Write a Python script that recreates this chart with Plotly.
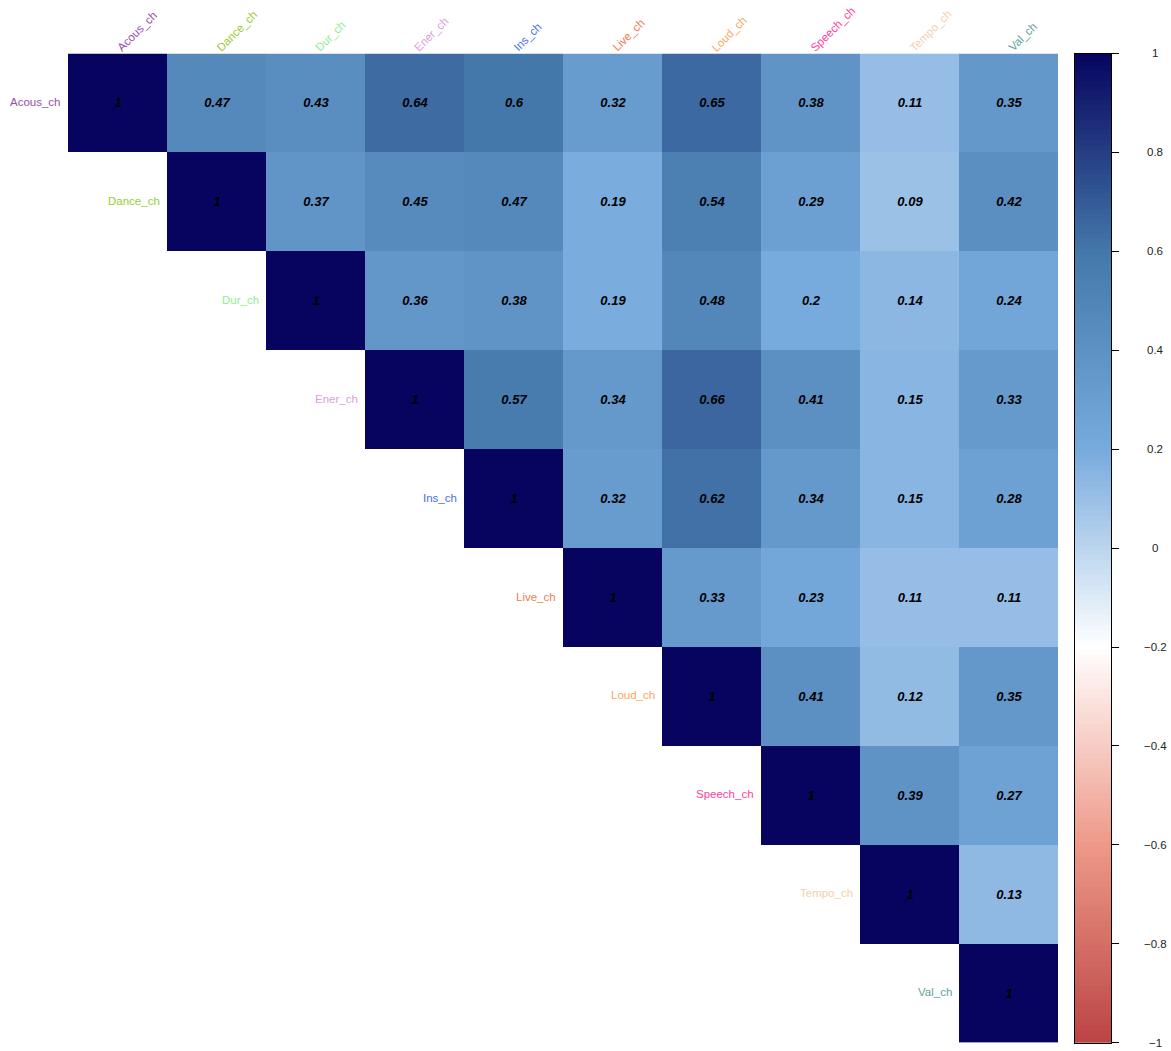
import numpy as np
import plotly.graph_objects as go

variables = ["Acous_ch", "Dance_ch", "Dur_ch", "Ener_ch", "Ins_ch",
             "Live_ch", "Loud_ch", "Speech_ch", "Tempo_ch", "Val_ch"]
label_colors = ["#9352A8", "#9ACD32", "#90EE90", "#DDA0DD", "#4A6FE3",
                "#F47A50", "#FDA65C", "#FF40A0", "#F3CFAE", "#5FA0A0"]

# upper triangle rows (from the diagonal to the right)
row_acous = [1, 0.47, 0.43, 0.64, 0.6, 0.32, 0.65, 0.38, 0.11, 0.35]
row_dance = [1, 0.37, 0.45, 0.47, 0.19, 0.54, 0.29, 0.09, 0.42]
row_dur = [1, 0.36, 0.38, 0.19, 0.48, 0.2, 0.14, 0.24]
row_ener = [1, 0.57, 0.34, 0.66, 0.41, 0.15, 0.33]
row_ins = [1, 0.32, 0.62, 0.34, 0.15, 0.28]
row_live = [1, 0.33, 0.23, 0.11, 0.11]
row_loud = [1, 0.41, 0.12, 0.35]
row_speech = [1, 0.39, 0.27]
row_tempo = [1, 0.13]
row_val = [1]
rows = [row_acous, row_dance, row_dur, row_ener, row_ins,
        row_live, row_loud, row_speech, row_tempo, row_val]

cbar_ticks = [1, 0.8, 0.6, 0.4, 0.2, 0, -0.2, -0.4, -0.6, -0.8, -1]
cbar_ticktext = ["1", "0.8", "0.6", "0.4", "0.2", "0", "\u22120.2", "\u22120.4",
                 "\u22120.6", "\u22120.8", "\u22121"]

colorscale = [[0.0, "#BB4444"], [0.2, "#EE9988"], [0.4, "#FFFFFF"],
              [0.6, "#77AADD"], [0.8, "#4477AA"], [1.0, "#06045E"]]

n = len(variables)
z = [[None] * n for _ in range(n)]
txt = [[""] * n for _ in range(n)]
for i, r in enumerate(rows):
    for k, v in enumerate(r):
        z[i][i + k] = v
        txt[i][i + k] = f"{v:g}"

FONT = "Liberation Sans, Arial, Helvetica, sans-serif"
W, H = 1171, 1051

fig = go.Figure()
fig.add_trace(go.Heatmap(
    z=z, x=list(range(n)), y=list(range(n)), text=txt,
    texttemplate="%{text}",
    textfont=dict(family=FONT, size=13, color="black", weight="bold", style="italic"),
    colorscale=colorscale, zmin=-1, zmax=1, showscale=False,
    hoverinfo="skip", xaxis="x", yaxis="y"))

# colour legend as its own small heatmap
ramp = np.linspace(-1, 1, 201)
fig.add_trace(go.Heatmap(
    z=[[v] for v in ramp], x=[0], y=ramp,
    colorscale=colorscale, zmin=-1, zmax=1, showscale=False,
    hoverinfo="skip", xaxis="x2", yaxis="y2"))

y_dom = [1 - 1042.7 / H, 1 - 53.5 / H]
fig.update_layout(
    width=W, height=H, margin=dict(l=0, r=0, t=0, b=0),
    paper_bgcolor="white", plot_bgcolor="white", showlegend=False,
    xaxis=dict(domain=[68 / W, 1058 / W], range=[-0.5, n - 0.5], visible=False, fixedrange=True),
    yaxis=dict(domain=y_dom, range=[n - 0.5, -0.5], visible=False, fixedrange=True),
    xaxis2=dict(domain=[1075 / W, 1111 / W], range=[-0.5, 0.5], anchor="y2",
                showticklabels=False, ticks="", showgrid=False, zeroline=False,
                showline=True, linecolor="black", linewidth=1, mirror=True, fixedrange=True),
    yaxis2=dict(domain=y_dom, range=[-1, 1], anchor="x2", side="right",
                tickvals=cbar_ticks, ticks="outside", ticklen=7, tickcolor="black",
                showticklabels=False, showgrid=False, zeroline=False,
                showline=True, linecolor="black", linewidth=1, mirror=True, fixedrange=True),
)

ann = []
for i, name in enumerate(variables):
    ann.append(dict(x=i - 0.5, y=i, xref="x", yref="y", text=name, showarrow=False,
                    xanchor="right", yanchor="middle", xshift=-5, yshift=1,
                    font=dict(family=FONT, size=11.5, color=label_colors[i])))
    ann.append(dict(x=i, y=-0.5, xref="x", yref="y", text=name, showarrow=False,
                    xanchor="left", yanchor="bottom", textangle=-45, xshift=-5, yshift=-3,
                    font=dict(family=FONT, size=11.5, color=label_colors[i])))
for v, t in zip(cbar_ticks, cbar_ticktext):
    ann.append(dict(x=1155 / W, y=v, xref="paper", yref="y2", text=t, showarrow=False,
                    xanchor="center", yanchor="middle",
                    font=dict(family=FONT, size=11.5, color="#222222")))
fig.update_layout(annotations=ann)

fig.write_html("out.html")
